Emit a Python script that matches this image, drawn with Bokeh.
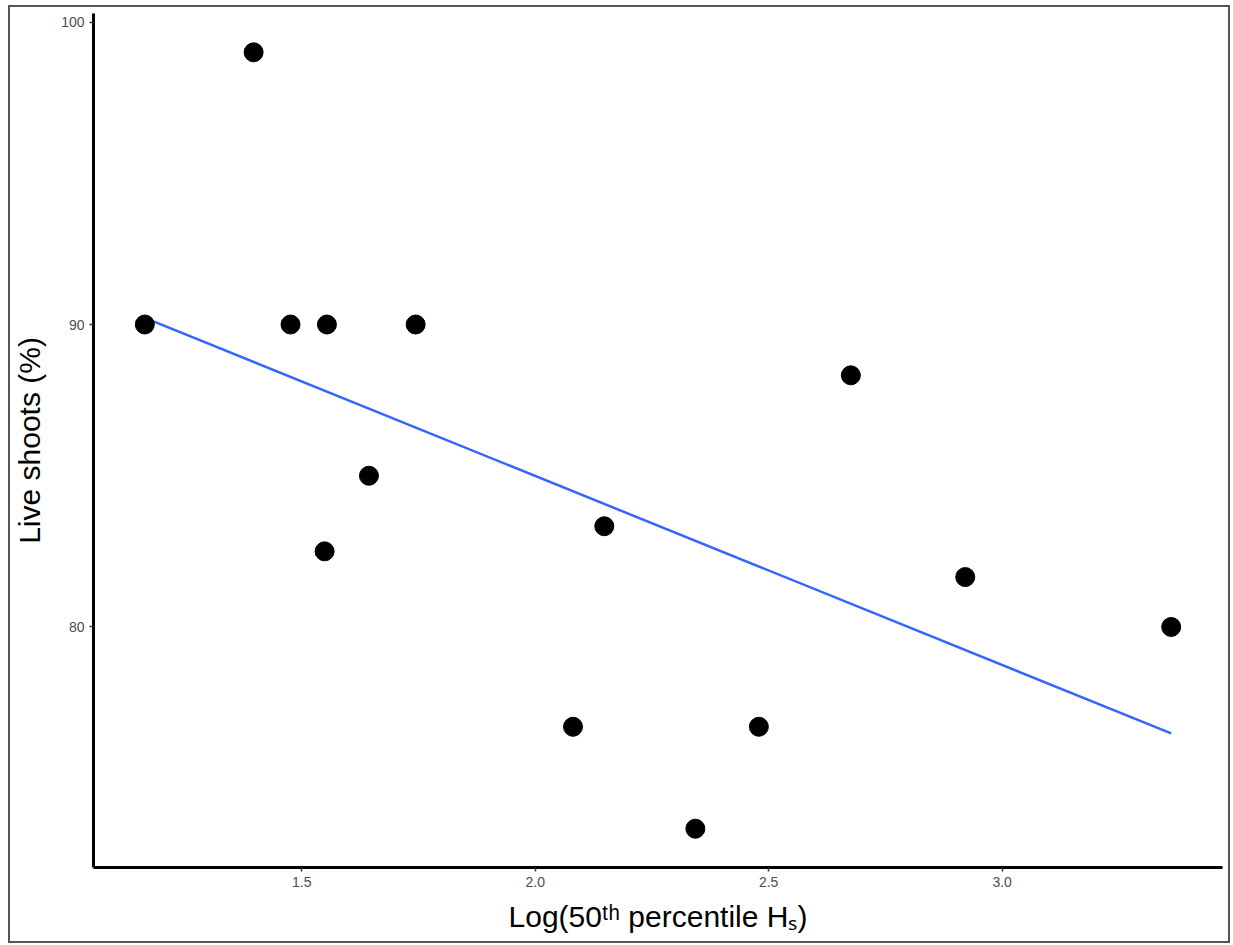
import numpy as np
from bokeh.plotting import figure
from bokeh.models import Range1d, FixedTicker, PrintfTickFormatter
from bokeh.embed import file_html
from bokeh.resources import INLINE

# Data
log_hs50 = [1.164, 1.397, 1.476, 1.554, 1.744, 1.644, 1.549, 2.148, 2.081, 2.343, 2.479, 2.676, 2.921, 3.362]
live_shoots = [90.0, 99.0, 90.0, 90.0, 90.0, 85.0, 82.5, 83.33, 76.7, 73.33, 76.7, 88.32, 81.65, 80.0]
x_ticks = [1.5, 2.0, 2.5, 3.0]
y_ticks = [80, 90, 100]

x = np.array(log_hs50)
y = np.array(live_shoots)
slope, intercept = np.polyfit(x, y, 1)
fit_x = np.array([x.min(), x.max()])
fit_y = slope * fit_x + intercept

xr = x.max() - x.min()
yr = y.max() - y.min()

p = figure(width=1222, height=938, output_backend="svg", toolbar_location=None,
           x_range=Range1d(x.min() - 0.05 * xr, x.max() + 0.05 * xr),
           y_range=Range1d(y.min() - 0.05 * yr, y.max() + 0.05 * yr),
           min_border_left=83, min_border_right=10, min_border_top=6, min_border_bottom=78)
p.styles = {"margin-left": "8px", "margin-top": "5px", "border": "2px solid #555"}

p.outline_line_color = None
p.grid.grid_line_color = None
p.background_fill_color = "white"
p.border_fill_color = "white"

p.line(fit_x, fit_y, line_color="#3366FF", line_width=2.5)
p.scatter(x, y, size=19, fill_color="black", line_color="black")

p.xaxis.ticker = FixedTicker(ticks=x_ticks)
p.yaxis.ticker = FixedTicker(ticks=y_ticks)
p.xaxis.formatter = PrintfTickFormatter(format="%.1f")

for ax in (p.xaxis[0], p.yaxis[0]):
    ax.axis_line_color = "black"
    ax.axis_line_width = 3
    ax.major_tick_line_color = "#333333"
    ax.major_tick_line_width = 1.5
    ax.major_tick_out = 4
    ax.major_tick_in = 0
    ax.minor_tick_line_color = None
    ax.major_label_text_font = "Liberation Sans"
    ax.major_label_text_font_size = "14px"
    ax.major_label_text_color = "#4d4d4d"
    ax.major_label_standoff = 5
    ax.axis_label_text_font = "Liberation Sans"
    ax.axis_label_text_font_size = "30px"
    ax.axis_label_text_font_style = "normal"
    ax.axis_label_text_color = "black"

p.yaxis.axis_label = "Live shoots (%)"
p.yaxis.axis_label_standoff = 12
p.xaxis.axis_label = "Log(50\u1d57\u02b0 percentile H\u209b)"
p.xaxis.axis_label_standoff = 10

open("out.html", "w").write(file_html(p, INLINE))
